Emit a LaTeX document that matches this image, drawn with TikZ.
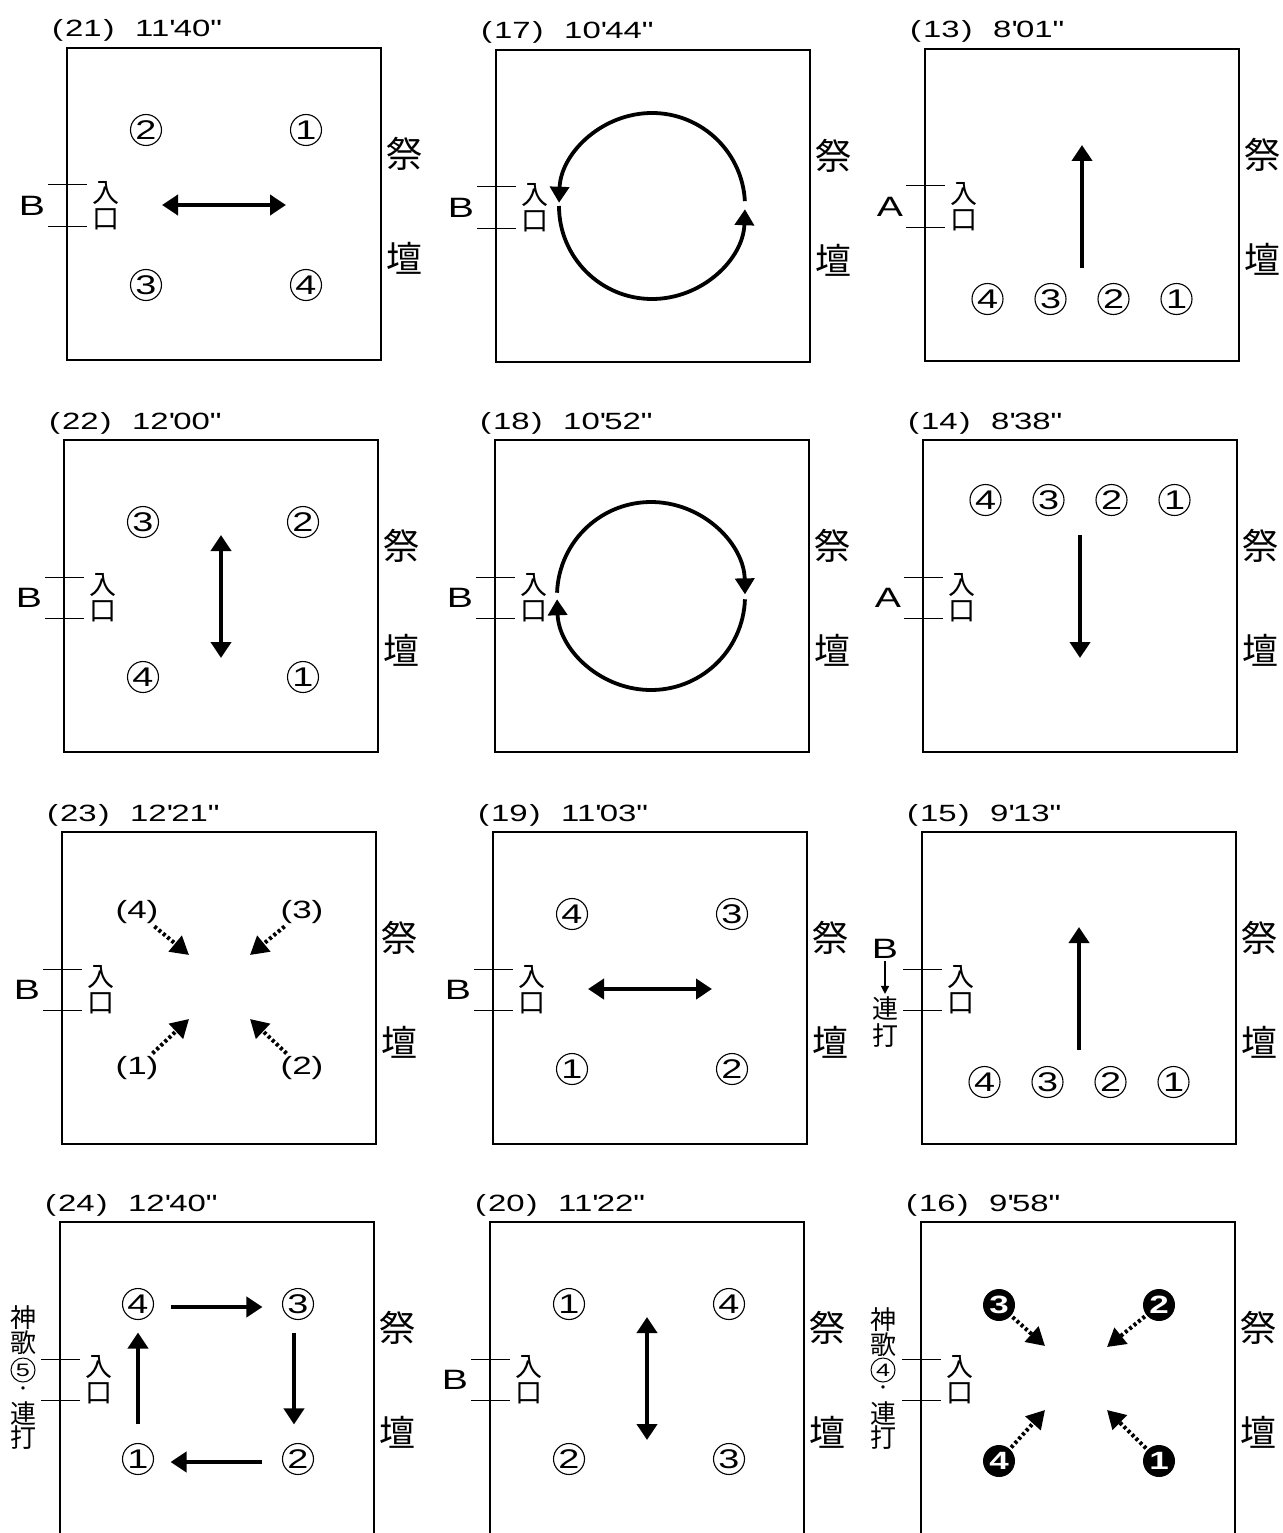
\documentclass[tikz,border=0pt]{standalone}
\usepackage{fontspec}
\newfontfamily\lat[FakeStretch=1.4]{Liberation Sans}
\newfontfamily\cjk{Noto Sans CJK JP}
\usetikzlibrary{arrows.meta}
\newcommand\qs{\textquotesingle}
\newcommand\qd{\textquotedbl}
\tikzset{
 xbox/.style={draw, line width=2.5pt, minimum width=314pt, minimum height=312pt, anchor=north west, inner sep=0pt, outer sep=0pt},
 xttl/.style={font=\lat\fontsize{23.5}{23.5}\selectfont, inner sep=0pt},
 xgate/.style={font=\lat\fontsize{28}{28}\selectfont, inner sep=0pt},
 xaltar/.style={font=\cjk\fontsize{36}{36}\selectfont, inner sep=0pt},
 xdoor/.style={font=\cjk\fontsize{27}{27}\selectfont, inner sep=0pt},
 xside/.style={font=\cjk\fontsize{26}{26}\selectfont, inner sep=0pt},
 xdot/.style={font=\cjk\fontsize{16}{16}\selectfont, inner sep=0pt},
 xent/.style={line width=1pt},
 cnum/.style={circle, draw, line width=1.1pt, minimum size=31pt, inner sep=0pt, font=\lat\fontsize{27}{27}\selectfont},
 snum/.style={circle, draw, line width=1pt, minimum size=24pt, inner sep=0pt, font=\lat\fontsize{18}{18}\selectfont},
 bnum/.style={circle, fill=black, minimum size=32pt, inner sep=0pt, text=white, font=\lat\bfseries\fontsize{25}{25}\selectfont},
 plab/.style={font=\lat\fontsize{25}{25}\selectfont, inner sep=0pt},
 sarr/.style={line width=4pt, -{Triangle[length=16pt,width=20pt]}},
 darr/.style={line width=4pt, {Triangle[length=16pt,width=20pt]}-{Triangle[length=16pt,width=20pt]}},
 carr/.style={line width=3.8pt, -{Triangle[length=16pt,width=19pt]}},
 dotarr/.style={line width=4pt, dash pattern=on 3pt off 2.6pt, -{Triangle[length=18pt,width=20pt]}},
 tinyarr/.style={line width=1.3pt, -{Triangle[length=8pt,width=8pt]}},
}
\begin{document}
\begin{tikzpicture}[x=1pt,y=-1pt]
\useasboundingbox (0,0) rectangle (1282,1533);
\fill[white] (0,0) rectangle (1282,1533);

% common parts of every panel
\foreach \id/\L/\T/\tm in {21/67/48/{11\qs40\qd}, 17/496/50/{10\qs44\qd}, 13/925/49/{8\qs01\qd},
  22/64/440/{12\qs00\qd}, 18/495/440/{10\qs52\qd}, 14/923/440/{8\qs38\qd},
  23/62/832/{12\qs21\qd}, 19/493/832/{11\qs03\qd}, 15/922/832/{9\qs13\qd},
  24/60/1222/{12\qs40\qd}, 20/490/1222/{11\qs22\qd}, 16/921/1222/{9\qs58\qd}}{
  \begin{scope}[shift={(\L,\T)}]
    \node[xbox] (box\id) at (0,0) {};
    \node[xttl, anchor=base west] (num\id) at (-15,-11) {(\kern2pt\id\kern2pt)};
    \node[xttl, anchor=base west] (time\id) at (68,-11) {\tm};
    \coordinate (eA\id) at (-19,137); \coordinate (eB\id) at (20,137);
    \coordinate (eC\id) at (-19,178); \coordinate (eD\id) at (20,178);
    \draw[xent] (eA\id) -- (eB\id);
    \draw[xent] (eC\id) -- (eD\id);
    \node[xdoor] (iri\id) at (39,145) {入};
    \node[xdoor] (kuchi\id) at (39,171) {口};
    \node[xaltar] (sai\id) at (337,106) {祭};
    \node[xaltar] (dan\id) at (337,210) {壇};
  \end{scope}
}

% (21)
\begin{scope}[shift={(67,48)}]
  \node[xgate] (g21) at (-35,158) {B};
  \node[cnum] (n21a) at (239,82) {1};
  \node[cnum] (n21b) at (79,82) {2};
  \node[cnum] (n21c) at (79,237) {3};
  \node[cnum] (n21d) at (239,237) {4};
  \coordinate (h21l) at (95,157); \coordinate (h21r) at (219,157);
  \draw[darr] (h21l) -- (h21r);
\end{scope}

% (17)
\begin{scope}[shift={(496,50)}]
  \node[xgate] (g17) at (-35,158) {B};
  \coordinate (c17) at (156,156);
  \draw[carr] ([shift={(-3:93)}]c17) arc[start angle=-3, end angle=-178, radius=93];
  \draw[carr] ([shift={(180:93)}]c17) arc[start angle=180, end angle=2, radius=93];
\end{scope}

% (13)
\begin{scope}[shift={(925,49)}]
  \node[xgate] (g13) at (-35,158) {A};
  \node[cnum] (n13d) at (62.5,250) {4};
  \node[cnum] (n13c) at (125.5,250) {3};
  \node[cnum] (n13b) at (188.5,250) {2};
  \node[cnum] (n13a) at (251.5,250) {1};
  \coordinate (v13s) at (157,219); \coordinate (v13e) at (157,96);
  \draw[sarr] (v13s) -- (v13e);
\end{scope}

% (22)
\begin{scope}[shift={(64,440)}]
  \node[xgate] (g22) at (-35,158) {B};
  \node[cnum] (n22c) at (79,82) {3};
  \node[cnum] (n22b) at (239,82) {2};
  \node[cnum] (n22d) at (79,237) {4};
  \node[cnum] (n22a) at (239,237) {1};
  \coordinate (v22t) at (157,95); \coordinate (v22b) at (157,218);
  \draw[darr] (v22t) -- (v22b);
\end{scope}

% (18)
\begin{scope}[shift={(495,440)}]
  \node[xgate] (g18) at (-35,158) {B};
  \coordinate (c18) at (156,156);
  \draw[carr] ([shift={(-178:94)}]c18) arc[start angle=-178, end angle=-1, radius=94];
  \draw[carr] ([shift={(2:94)}]c18) arc[start angle=2, end angle=178, radius=94];
\end{scope}

% (14)
\begin{scope}[shift={(923,440)}]
  \node[xgate] (g14) at (-35,158) {A};
  \node[cnum] (n14d) at (62.5,60) {4};
  \node[cnum] (n14c) at (125.5,60) {3};
  \node[cnum] (n14b) at (188.5,60) {2};
  \node[cnum] (n14a) at (251.5,60) {1};
  \coordinate (v14s) at (157,95); \coordinate (v14e) at (157,218);
  \draw[sarr] (v14s) -- (v14e);
\end{scope}

% (23)
\begin{scope}[shift={(62,832)}]
  \node[xgate] (g23) at (-35,158) {B};
  \node[plab] (l23d) at (75,80) {(4)};
  \node[plab] (l23c) at (240,80) {(3)};
  \node[plab] (l23a) at (75,236) {(1)};
  \node[plab] (l23b) at (240,236) {(2)};
  \coordinate (t23d) at (127,123);
  \coordinate (t23c) at (188,123);
  \coordinate (t23a) at (127,187);
  \coordinate (t23b) at (188,187);
  \draw[dotarr, shorten <=4pt] (l23d) -- (t23d);
  \draw[dotarr, shorten <=4pt] (l23c) -- (t23c);
  \draw[dotarr, shorten <=4pt] (l23a) -- (t23a);
  \draw[dotarr, shorten <=4pt] (l23b) -- (t23b);
\end{scope}

% (19)
\begin{scope}[shift={(493,832)}]
  \node[xgate] (g19) at (-35,158) {B};
  \node[cnum] (n19d) at (79,82) {4};
  \node[cnum] (n19c) at (239,82) {3};
  \node[cnum] (n19a) at (79,237) {1};
  \node[cnum] (n19b) at (239,237) {2};
  \coordinate (h19l) at (95,157); \coordinate (h19r) at (219,157);
  \draw[darr] (h19l) -- (h19r);
\end{scope}

% (15)
\begin{scope}[shift={(922,832)}]
  \node[xgate] (g15) at (-37,117) {B};
  \node[xside] (ren15) at (-37,177) {連};
  \node[xside] (da15) at (-37,204) {打};
  \draw[tinyarr, shorten <=2pt, shorten >=3pt] (g15) -- (ren15);
  \node[cnum] (n15d) at (62.5,250) {4};
  \node[cnum] (n15c) at (125.5,250) {3};
  \node[cnum] (n15b) at (188.5,250) {2};
  \node[cnum] (n15a) at (251.5,250) {1};
  \coordinate (v15s) at (157,218); \coordinate (v15e) at (157,95);
  \draw[sarr] (v15s) -- (v15e);
\end{scope}

% (24)
\begin{scope}[shift={(60,1222)}]
  \node[xside] (kami24) at (-37,96) {神};
  \node[xside] (uta24) at (-37,121) {歌};
  \node[snum] (five24) at (-37,148) {5};
  \node[xdot] (dot24) at (-37,169) {・};
  \node[xside] (ren24) at (-37,191) {連};
  \node[xside] (da24) at (-37,216) {打};
  \node[cnum] (n24d) at (78,82) {4};
  \node[cnum] (n24c) at (238,82) {3};
  \node[cnum] (n24a) at (78,237) {1};
  \node[cnum] (n24b) at (238,237) {2};
  \draw[sarr, shorten <=16.5pt, shorten >=19.5pt] ([yshift=-3pt]n24d.east) -- ([yshift=-3pt]n24c.west);
  \draw[sarr, shorten <=12.5pt, shorten >=18.5pt] ([xshift=-4pt]n24c.south) -- ([xshift=-4pt]n24b.north);
  \draw[sarr, shorten <=19.5pt, shorten >=16.5pt] ([yshift=-3pt]n24b.west) -- ([yshift=-3pt]n24a.east);
  \draw[sarr, shorten <=18.5pt, shorten >=12.5pt] (n24a.north) -- (n24d.south);
\end{scope}

% (20)
\begin{scope}[shift={(490,1222)}]
  \node[xgate] (g20) at (-35,158) {B};
  \node[cnum] (n20a) at (79,82) {1};
  \node[cnum] (n20d) at (239,82) {4};
  \node[cnum] (n20b) at (79,237) {2};
  \node[cnum] (n20c) at (239,237) {3};
  \coordinate (v20t) at (157,95); \coordinate (v20b) at (157,218);
  \draw[darr] (v20t) -- (v20b);
\end{scope}

% (16)
\begin{scope}[shift={(921,1222)}]
  \node[xside] (kami16) at (-38,98) {神};
  \node[xside] (uta16) at (-38,123) {歌};
  \node[snum] (four16) at (-38,148) {4};
  \node[xdot] (dot16) at (-38,168) {・};
  \node[xside] (ren16) at (-38,191) {連};
  \node[xside] (da16) at (-38,216) {打};
  \node[bnum] (b16c) at (78,83) {3};
  \node[bnum] (b16b) at (238,83) {2};
  \node[bnum] (b16d) at (78,239) {4};
  \node[bnum] (b16a) at (238,239) {1};
  \coordinate (t16c) at (124,124);
  \coordinate (t16b) at (186,125);
  \coordinate (t16d) at (124,188);
  \coordinate (t16a) at (186,188);
  \draw[dotarr, shorten <=2pt] (b16c) -- (t16c);
  \draw[dotarr, shorten <=2pt] (b16b) -- (t16b);
  \draw[dotarr, shorten <=2pt] (b16d) -- (t16d);
  \draw[dotarr, shorten <=2pt] (b16a) -- (t16a);
\end{scope}
\end{tikzpicture}
\end{document}
